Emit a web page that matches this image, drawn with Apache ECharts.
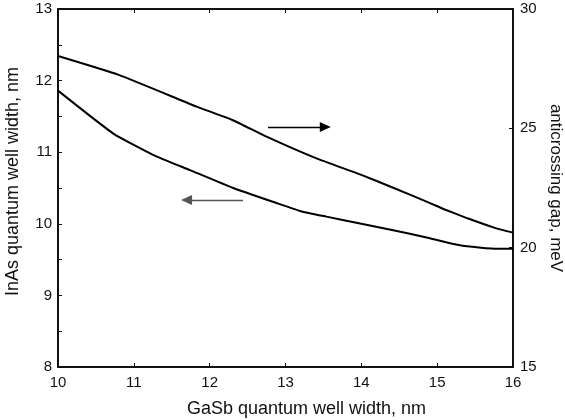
<!DOCTYPE html>
<html>
<head>
<meta charset="utf-8">
<script src="https://cdn.jsdelivr.net/npm/echarts@6/dist/echarts.min.js"></script>
<style>
html,body{margin:0;padding:0;background:#fff;}
#chart{width:565px;height:420px;}
</style>
</head>
<body>
<div id="chart"></div>
<script>
// GaSb quantum well width (nm) for the InAs curve (left axis)
const gasbForInAs = [10, 10.73, 11.26, 11.74, 12.31, 12.88, 13.19, 13.54, 14.0, 14.42, 14.86, 15.3, 15.8, 16];
const inasWidth   = [11.86, 11.26, 10.96, 10.75, 10.50, 10.29, 10.18, 10.10, 10.0, 9.91, 9.81, 9.70, 9.65, 9.65];
// GaSb quantum well width (nm) for the anticrossing gap curve (right axis)
const gasbForGap  = [10, 10.8, 11.83, 12.3, 12.75, 13.4, 14.0, 14.42, 14.86, 15.1, 15.4, 15.75, 16];
const gapMeV      = [28.03, 27.24, 25.91, 25.35, 24.65, 23.75, 23.05, 22.51, 21.93, 21.6, 21.23, 20.84, 20.63];

const xTitle = 'GaSb quantum well width, nm';
const yLeftTitle = 'InAs quantum well width, nm';
const yRightTitle = 'anticrossing gap, meV';

const FONT = '"Liberation Sans", Arial, Helvetica, sans-serif';
const pairs = (xs, ys) => xs.map((x, i) => [x, ys[i]]);

const axisLine = {show: true, lineStyle: {color: '#111', width: 2}};
const tick = {show: true, inside: true, length: 4, lineStyle: {color: '#111', width: 1}};
const lbl = {color: '#111', fontSize: 15, fontFamily: FONT};

const chart = echarts.init(document.getElementById('chart'), null, {renderer: 'canvas'});
chart.setOption({
  animation: false,
  backgroundColor: '#fff',
  grid: {left: 58, right: 52, top: 9, bottom: 53, containLabel: false, outerBoundsMode: 'none'},
  xAxis: [{
    type: 'value', position: 'bottom', min: 10, max: 16, interval: 1,
    axisLine: axisLine, axisTick: tick, splitLine: {show: false},
    axisLabel: Object.assign({margin: 8}, lbl),
    name: xTitle, nameLocation: 'middle', nameGap: 33,
    nameTextStyle: {color: '#111', fontSize: 18, fontFamily: FONT, padding: [0, 0, 0, 42]}
  }, {
    type: 'value', position: 'top', min: 10, max: 16, interval: 1,
    axisLine: axisLine, axisTick: tick, splitLine: {show: false},
    axisLabel: {show: false}
  }],
  yAxis: [{
    type: 'value', position: 'left', min: 8, max: 13, interval: 1,
    axisLine: axisLine, axisTick: tick,
    minorTick: {show: true, splitNumber: 2, length: 4, lineStyle: {color: '#111', width: 1}},
    splitLine: {show: false}, minorSplitLine: {show: false},
    axisLabel: Object.assign({margin: 6}, lbl),
    name: yLeftTitle, nameLocation: 'middle', nameGap: 35.5,
    nameTextStyle: {color: '#111', fontSize: 18, fontFamily: FONT, padding: [0, 0, 0, 13]}
  }, {
    type: 'value', position: 'right', min: 15, max: 30, interval: 5,
    axisLine: axisLine, axisTick: tick, splitLine: {show: false},
    axisLabel: Object.assign({margin: 7}, lbl),
    name: yRightTitle, nameLocation: 'middle', nameGap: 33, nameRotate: -90,
    nameTextStyle: {color: '#111', fontSize: 17, fontFamily: FONT}
  }],
  series: [{
    name: yLeftTitle, type: 'line', xAxisIndex: 0, yAxisIndex: 0,
    data: pairs(gasbForInAs, inasWidth), showSymbol: false, smooth: 0.15,
    lineStyle: {color: '#000', width: 2}, silent: true,
    markLine: {
      silent: true, symbol: ['none', 'triangle'], symbolSize: [10, 11],
      label: {show: false},
      lineStyle: {type: 'solid', color: '#555', width: 1.3},
      itemStyle: {color: '#000'},
      data: [[{coord: [12.44, 10.333]}, {coord: [11.695, 10.333], itemStyle: {color: '#000'}}]]
    }
  }, {
    name: yRightTitle, type: 'line', xAxisIndex: 0, yAxisIndex: 1,
    data: pairs(gasbForGap, gapMeV), showSymbol: false, smooth: 0.15,
    lineStyle: {color: '#000', width: 2}, silent: true,
    markLine: {
      silent: true, symbol: ['none', 'triangle'], symbolSize: [10, 11],
      label: {show: false},
      lineStyle: {type: 'solid', color: '#000', width: 1.3},
      data: [[{coord: [12.77, 25.06]}, {coord: [13.525, 25.06]}]]
    }
  }]
});
</script>
</body>
</html>
